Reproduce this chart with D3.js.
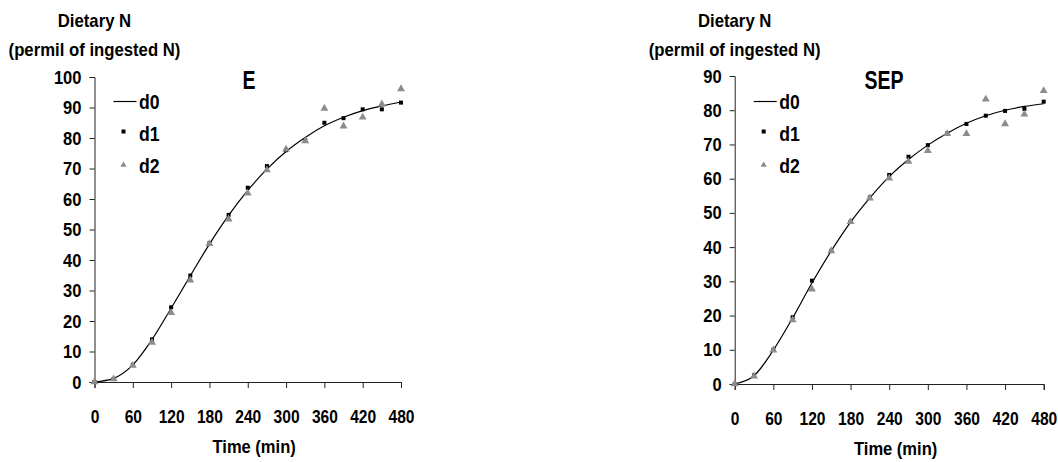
<!DOCTYPE html>
<html><head><meta charset="utf-8">
<script src="https://cdn.jsdelivr.net/npm/d3@7"></script>
<style>
body{margin:0;background:#fff}
svg text{font-family:"Liberation Sans",Arial,sans-serif;font-weight:bold;fill:#000}
</style></head><body><svg id="chart" width="1058" height="462"></svg>
<script>
// ---- data ----
const times = [0,30,60,90,120,150,180,210,240,270,300,330,360,390,420,450,480];
const xTicks = [0,60,120,180,240,300,360,420,480];
const seriesNames = ["d0","d1","d2"];
const yLabelLines = ["Dietary N","(permil of ingested N)"];
const xLabel = "Time (min)";

const E_title = "E";
const E_yTicks = [0,10,20,30,40,50,60,70,80,90,100];
const E_d0 = [0,1.2,5.6,13.9,24.2,34.8,45.2,54.6,62.8,69.8,75.6,80.2,84.0,86.8,89.0,90.5,91.8];
const E_d1 = [0,1.0,5.6,14.0,24.5,34.9,45.5,54.8,63.7,70.8,76.0,79.2,85.0,86.5,89.4,89.4,91.6];
const E_d2 = [0,1.0,5.4,13.0,22.7,33.4,45.3,53.4,61.9,69.5,76.3,79.0,89.7,83.9,86.8,91.1,96.1];

const SEP_title = "SEP";
const SEP_yTicks = [0,10,20,30,40,50,60,70,80,90];
const SEP_d0 = [0,2.4,9.9,19.3,29.5,38.9,47.3,54.4,60.6,65.6,69.8,73.3,76.2,78.4,80.0,81.1,81.9];
const SEP_d1 = [0,2.5,10.0,19.5,30.2,38.9,47.4,54.5,61.1,66.4,69.8,73.2,76.0,78.4,79.8,80.4,82.5];
const SEP_d2 = [0,2.3,9.9,18.7,27.7,38.9,47.4,54.3,60.1,65.0,68.2,73.1,73.1,83.2,76.0,78.8,85.7];

// ---- drawing ----
const svg = d3.select("#chart");
const AX = "#222", TRI = "#8c8c8c";

function condense(sel, f){
  sel.each(function(){
    const L = this.getComputedTextLength();
    d3.select(this).attr("textLength", L*f).attr("lengthAdjust","spacingAndGlyphs");
  });
}

function panel(cfg){
  const g = svg.append("g");
  const x = d3.scaleLinear().domain([0,480]).range([cfg.left, cfg.right]);
  const y = d3.scaleLinear().domain([0, d3.max(cfg.yTicks)]).range([cfg.bottom, cfg.top]);

  const ya = g.append("g").attr("transform",`translate(${cfg.left},0)`)
    .call(d3.axisLeft(y).tickValues(cfg.yTicks).tickSize(5).tickPadding(8).tickFormat(d3.format("d")));
  ya.selectAll("text").style("font-size","19px");
  condense(ya.selectAll("text"), 0.87);
  const xa = g.append("g").attr("transform",`translate(0,${cfg.bottom})`)
    .call(d3.axisBottom(x).tickValues(xTicks).tickSize(6).tickPadding(22).tickFormat(d3.format("d")));
  xa.selectAll("text").style("font-size","19px");
  condense(xa.selectAll("text"), 0.82);
  g.selectAll(".domain, .tick line").attr("stroke",AX).attr("stroke-width",1);

  // axis titles
  yLabelLines.forEach((t,i)=>{
    const tx = g.append("text").attr("text-anchor","middle").style("font-size","19px")
      .attr("x",cfg.left).attr("y",27+i*29).text(t);
    condense(tx, 0.88);
  });
  const xt = g.append("text").attr("text-anchor","middle").style("font-size","19px")
    .attr("x",x(250)).attr("y",cfg.bottom+71).text(xLabel);
  condense(xt, 0.87);
  const tt = g.append("text").attr("text-anchor","middle").style("font-size","25px")
    .attr("x",x(cfg.titleT)).attr("y",89).text(cfg.title);
  condense(tt, 0.78);

  // series
  const pts = times.map((t,i)=>({t, d0:cfg.d0[i], d1:cfg.d1[i], d2:cfg.d2[i]}));
  g.append("path").datum(pts)
    .attr("fill","none").attr("stroke","#000").attr("stroke-width",1.2)
    .attr("d", d3.line().x(d=>x(d.t)).y(d=>y(d.d0)).curve(d3.curveMonotoneX));
  const sq = d3.symbol().type(d3.symbolSquare).size(16);
  const tr = d3.symbol().type(d3.symbolTriangle).size(27);
  g.append("g").selectAll("path").data(pts).join("path")
    .attr("transform",d=>`translate(${x(d.t)},${y(d.d1)})`).attr("d",sq).attr("fill","#000");
  g.append("g").selectAll("path").data(pts).join("path")
    .attr("transform",d=>`translate(${x(d.t)},${y(d.d2)})`).attr("d",tr).attr("fill",TRI);

  // legend
  const lg = g.append("g").attr("transform",`translate(${cfg.left},0)`);
  lg.append("line").attr("x1",19).attr("x2",42).attr("y1",101.5).attr("y2",101.5)
    .attr("stroke","#000").attr("stroke-width",1.2);
  lg.append("path").attr("transform","translate(29,131.5)").attr("d",sq).attr("fill","#000");
  lg.append("path").attr("transform","translate(29,165)").attr("d",d3.symbol().type(d3.symbolTriangle).size(17)).attr("fill",TRI);
  seriesNames.forEach((n,i)=>{
    const lt = lg.append("text").attr("x",44.5).attr("y",108.5+i*32).style("font-size","20px").text(n);
    condense(lt, 0.88);
  });
}

panel({title:E_title, titleT:242, yTicks:E_yTicks, d0:E_d0, d1:E_d1, d2:E_d2,
       left:94.5, right:401, top:77, bottom:382});
panel({title:SEP_title, titleT:232, yTicks:SEP_yTicks, d0:SEP_d0, d1:SEP_d1, d2:SEP_d2,
       left:734.7, right:1043.7, top:76, bottom:384});
</script></body></html>
